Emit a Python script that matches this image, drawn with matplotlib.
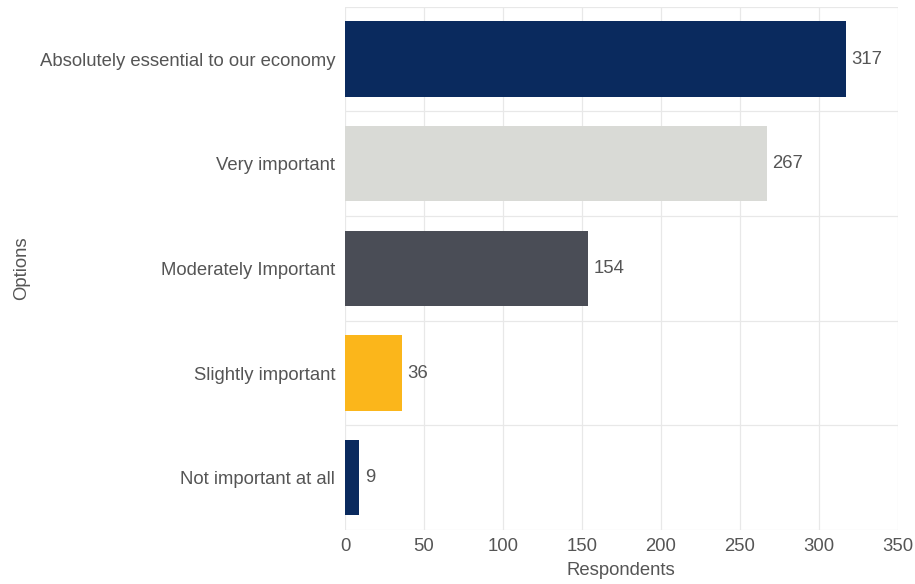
import numpy as np
import matplotlib.pyplot as plt

plt.rcParams['font.family'] = ['Liberation Sans', 'DejaVu Sans']

# ---- data ----
options = ['Absolutely essential to our economy', 'Very important',
           'Moderately Important', 'Slightly important', 'Not important at all']
respondents = [317, 267, 154, 36, 9]
colors = ['#0a2a5e', '#d9dad6', '#4a4d56', '#fbb61b', '#0a2a5e']

text_col = '#555555'
grid_col = '#e8e8e8'
fs = 13.3

fig = plt.figure(figsize=(9.15, 5.84), dpi=100)
ax = fig.add_axes([0.377, 0.0925, 0.604, 0.896])

y = np.arange(len(options))
ax.barh(y, respondents, height=0.72, color=colors, zorder=3)

for yi, v in zip(y, respondents):
    ax.annotate(str(v), (v, yi), xytext=(4, 0), textcoords='offset points',
                va='center', ha='left', fontsize=fs, color=text_col)

ax.set_xlim(0, 350)
ax.set_ylim(len(options) - 0.5, -0.5)
ax.set_xticks(np.arange(0, 351, 50))
ax.set_yticks(y)
ax.set_yticklabels(options)
ax.set_yticks(np.arange(-0.5, len(options)), minor=True)

ax.grid(True, axis='x', which='major', color=grid_col, linewidth=0.9, zorder=0)
ax.grid(True, axis='y', which='minor', color=grid_col, linewidth=0.9, zorder=0)
ax.grid(False, axis='y', which='major')

for s in ax.spines.values():
    s.set_visible(False)
ax.tick_params(axis='both', which='both', length=0, labelsize=fs, colors=text_col)
ax.tick_params(axis='x', pad=6)
ax.tick_params(axis='y', pad=7)

ax.set_xlabel('Respondents', fontsize=fs, color=text_col, labelpad=5)
ax.set_ylabel('Options', fontsize=fs, color=text_col)
ax.yaxis.set_label_coords(-0.57, 0.5)

fig.savefig('out.png', dpi=100)
